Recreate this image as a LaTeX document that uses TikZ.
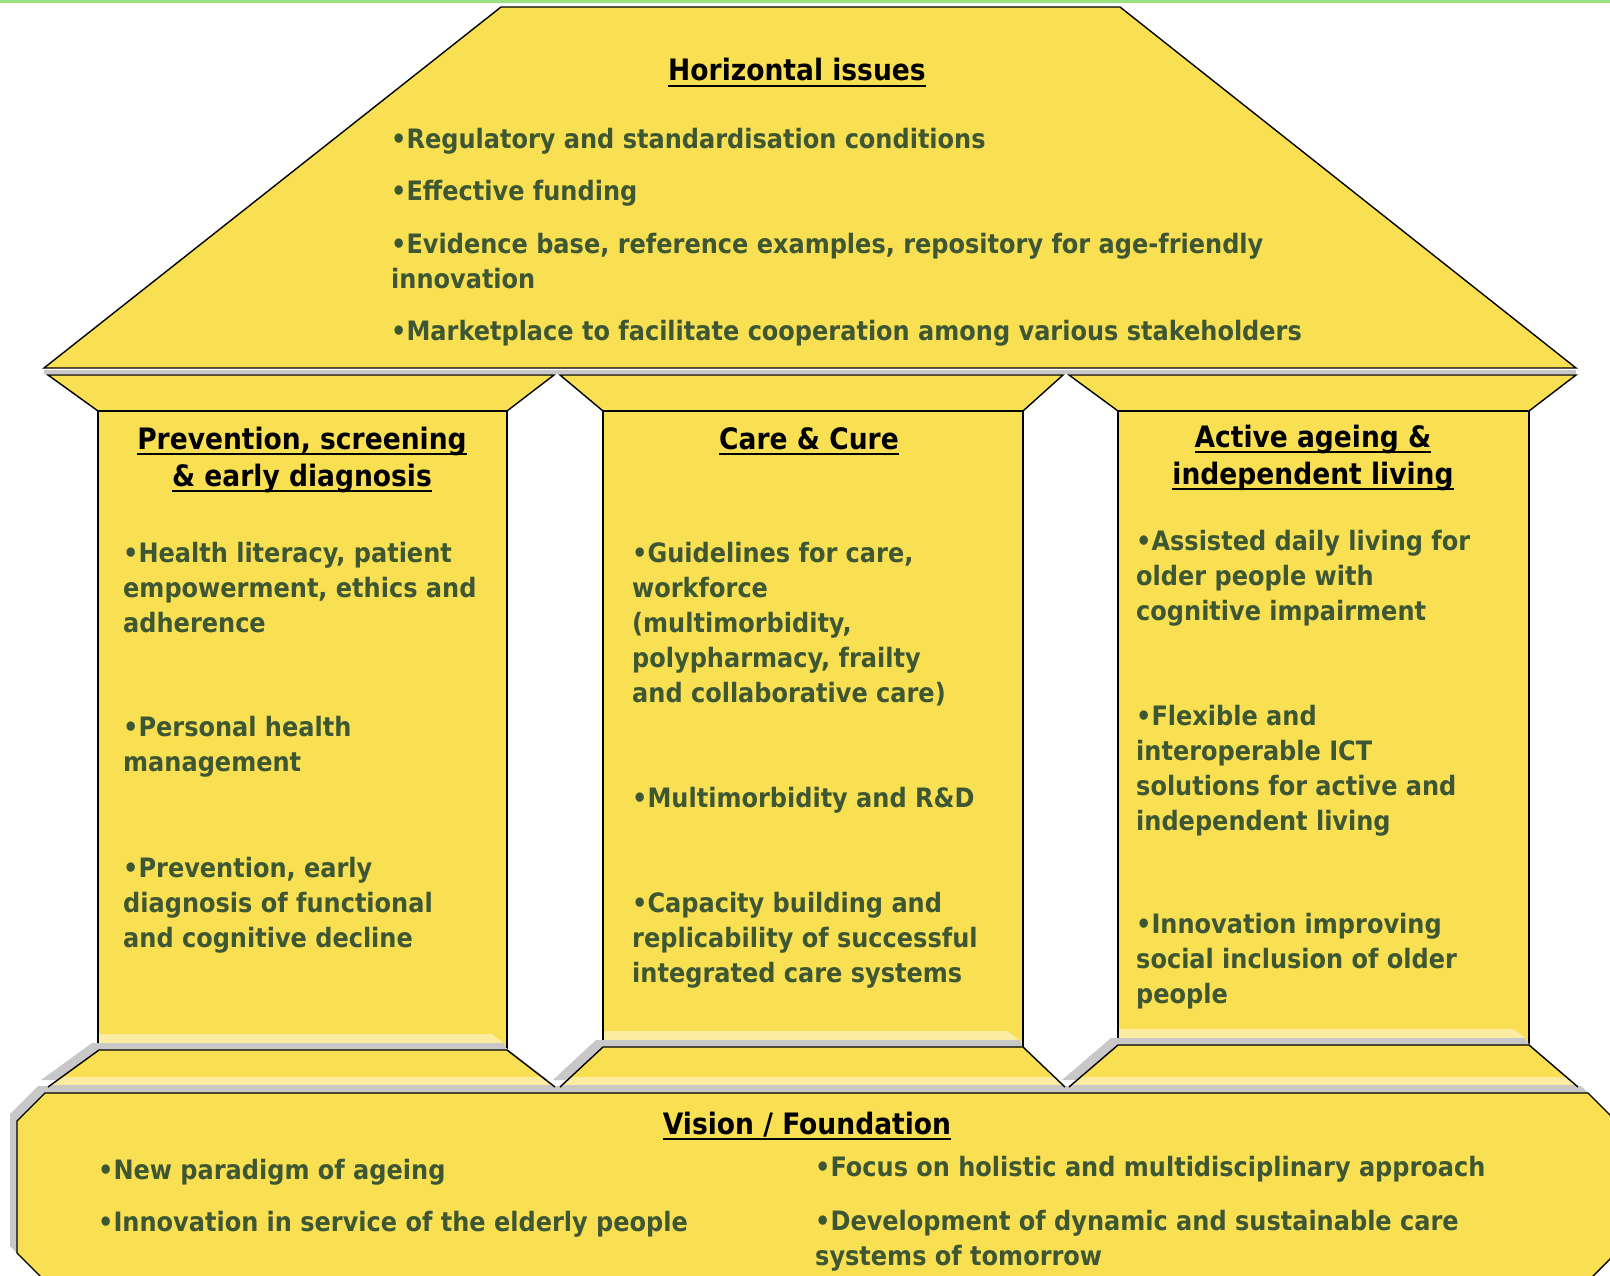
\documentclass[tikz,border=0pt]{standalone}
\usepackage{fontspec}
\setmainfont{DejaVu Sans Condensed}
\definecolor{hy}{RGB}{249,223,82}
\definecolor{pale}{RGB}{251,236,162}
\definecolor{shd}{RGB}{200,200,200}
\definecolor{tg}{RGB}{61,86,52}
\definecolor{topg}{RGB}{153,224,126}
\newcommand\ulin[1]{\setbox0\hbox{#1}\rlap{\rule[-6pt]{\wd0}{1.6pt}}\box0}
\tikzset{
  house/.style={fill=hy, draw=black, line width=1.4pt, line join=miter},
  edge/.style={draw=black, line width=1.4pt, line join=miter},
  btxt/.style={font=\bfseries\fontsize{26.7}{35}\selectfont, text=tg, align=left, anchor=base west, inner sep=0pt},
  ttl/.style={font=\bfseries\fontsize{29.5}{37}\selectfont, text=black, align=center, anchor=base, inner sep=0pt},
}
\begin{document}
\begin{tikzpicture}[x=1pt,y=-1pt]
\useasboundingbox (0,0) rectangle (1610,1276);
\fill[white] (0,0) rectangle (1610,1276);
\fill[topg] (0,0) rectangle (1610,3);
% roof
\path[house] (44,368) -- (501,7) -- (1120,7) -- (1576,368) -- cycle;
\fill[shd] (44,369.5) rectangle (1576,374);
% capitals
\path[house] (48,375) -- (554,375) -- (507,411) -- (98,411) -- cycle;
\path[house] (560,375) -- (1063,375) -- (1023,411) -- (603,411) -- cycle;
\path[house] (1069,375) -- (1576,375) -- (1529,411) -- (1118,411) -- cycle;
% columns
\path[house] (98,411) rectangle (507,1050);
\path[house] (603,411) rectangle (1023,1047);
\path[house] (1118,411) rectangle (1529,1045);
% column bottom bevels
\fill[pale] (99,1034) -- (492,1034) -- (503,1043) -- (99,1043) -- cycle;
\fill[shd] (99,1043) -- (503,1043) -- (506,1049) -- (99,1049) -- cycle;
\fill[pale] (604,1031) -- (1008,1031) -- (1019,1040) -- (604,1040) -- cycle;
\fill[shd] (604,1040) -- (1019,1040) -- (1022,1046) -- (604,1046) -- cycle;
\fill[pale] (1119,1029) -- (1514,1029) -- (1525,1038) -- (1119,1038) -- cycle;
\fill[shd] (1119,1038) -- (1525,1038) -- (1528,1044) -- (1119,1044) -- cycle;
% shadows of bases and foundation
\fill[shd] (92,1043) -- (500,1043) -- (548,1080) -- (41,1080) -- cycle;
\fill[shd] (596,1040) -- (1016,1040) -- (1058,1080) -- (553,1080) -- cycle;
\fill[shd] (1111,1038) -- (1522,1038) -- (1571,1080) -- (1062,1080) -- cycle;
\fill[shd] (38,1086) -- (1581,1086) -- (1609,1114) -- (1609,1246) -- (1581,1274) -- (38,1274) -- (10,1246) -- (10,1114) -- cycle;
% bases
\fill[hy] (99,1050) -- (507,1050) -- (555,1087) -- (48,1087) -- cycle;
\begin{scope}
\clip (99,1050) -- (507,1050) -- (555,1087) -- (48,1087) -- cycle;
\fill[pale] (0,1077) rectangle (1610,1085);
\fill[shd] (0,1085) rectangle (1610,1088);
\end{scope}
\path[edge] (48,1087) -- (99,1050) -- (507,1050) -- (555,1087);
\fill[hy] (603,1047) -- (1023,1047) -- (1065,1087) -- (560,1087) -- cycle;
\begin{scope}
\clip (603,1047) -- (1023,1047) -- (1065,1087) -- (560,1087) -- cycle;
\fill[pale] (0,1077) rectangle (1610,1085);
\fill[shd] (0,1085) rectangle (1610,1088);
\end{scope}
\path[edge] (560,1087) -- (603,1047) -- (1023,1047) -- (1065,1087);
\fill[hy] (1118,1045) -- (1529,1045) -- (1578,1087) -- (1069,1087) -- cycle;
\begin{scope}
\clip (1118,1045) -- (1529,1045) -- (1578,1087) -- (1069,1087) -- cycle;
\fill[pale] (0,1077) rectangle (1610,1085);
\fill[shd] (0,1085) rectangle (1610,1088);
\end{scope}
\path[edge] (1069,1087) -- (1118,1045) -- (1529,1045) -- (1578,1087);
% foundation
\path[house] (45,1093) -- (1588,1093) -- (1616,1121) -- (1616,1253) -- (1588,1281) -- (45,1281) -- (17,1253) -- (17,1121) -- cycle;
% texts: roof (multi-line nodes are placed at the baseline of their last line)
\node[ttl] (hzt) at (797,81) {\ulin{Horizontal issues}};
\node[btxt] (hz1) at (391,148.5) {•Regulatory and standardisation conditions};
\node[btxt] (hz2) at (391,200.5) {•Effective funding};
\node[btxt] (hz3) at (391,288.5) {•Evidence base, reference examples, repository for age-friendly\\innovation};
\node[btxt] (hz4) at (391,340.5) {•Marketplace to facilitate cooperation among various stakeholders};
% left column
\node[ttl] (c1t) at (302,486) {\ulin{Prevention, screening}\\\ulin{\& early diagnosis}};
\node[btxt] (c1a) at (123,632.5) {•Health literacy, patient\\empowerment, ethics and\\adherence};
\node[btxt] (c1b) at (123,771.5) {•Personal health\\management};
\node[btxt] (c1c) at (123,947.5) {•Prevention, early\\diagnosis of functional\\and cognitive decline};
% middle column
\node[ttl] (c2t) at (809,449) {\ulin{Care \& Cure}};
\node[btxt] (c2a) at (632,702.5) {•Guidelines for care,\\workforce\\(multimorbidity,\\polypharmacy, frailty\\and collaborative care)};
\node[btxt] (c2b) at (632,807.5) {•Multimorbidity and R\&D};
\node[btxt] (c2c) at (632,982.5) {•Capacity building and\\replicability of successful\\integrated care systems};
% right column
\node[ttl] (c3t) at (1313,484) {\ulin{Active ageing \&}\\\ulin{independent living}};
\node[btxt] (c3a) at (1136,620.5) {•Assisted daily living for\\older people with\\cognitive impairment};
\node[btxt] (c3b) at (1136,830.5) {•Flexible and\\interoperable ICT\\solutions for active and\\independent living};
\node[btxt] (c3c) at (1136,1003.5) {•Innovation improving\\social inclusion of older\\people};
% foundation
\node[ttl] (ft) at (807,1134) {\ulin{Vision / Foundation}};
\node[btxt] (f1) at (98,1179.5) {•New paradigm of ageing};
\node[btxt] (f2) at (98,1231.5) {•Innovation in service of the elderly people};
\node[btxt] (f3) at (815,1176.5) {•Focus on holistic and multidisciplinary approach};
\node[btxt] (f4) at (815,1265.5) {•Development of dynamic and sustainable care\\systems of tomorrow};
\end{tikzpicture}
\end{document}
